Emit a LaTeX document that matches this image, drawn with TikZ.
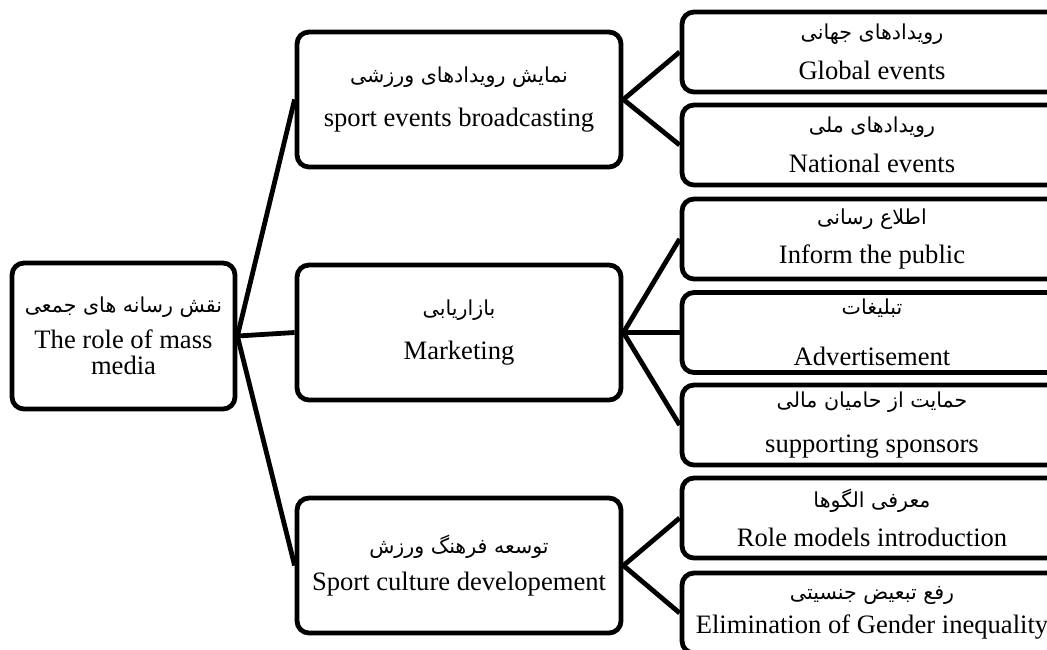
\documentclass[tikz,border=0pt]{standalone}
\usepackage{fontspec}
\setmainfont{Liberation Serif}
\newfontfamily\persianfont[Script=Arabic]{DejaVu Sans}
\TeXXeTstate=1
\newcommand{\fa}[1]{{\persianfont\fontsize{10.3}{11}\selectfont\beginR #1\endR}}

\begin{document}
\begin{tikzpicture}[x=0.5pt,y=-0.5pt]
\tikzstyle{box}=[draw,rounded corners=6pt,line width=2.4pt,align=center,inner sep=1pt,font=\fontsize{13.3}{11.5}\selectfont]
\tikzstyle{rootbox}=[box,minimum width=111.5pt,minimum height=73pt]
\tikzstyle{midbox}=[box,minimum width=162pt,minimum height=67.5pt]
\tikzstyle{leafbox}=[box,minimum width=190pt,minimum height=40pt]
\tikzstyle{link}=[line width=2.4pt]
\useasboundingbox (0,0) rectangle (1047,649);
% root
\node[rootbox] (media) at (123.5,336) {\fa{نقش رسانه های جمعی}\\[5pt] The role of mass\\[1.5pt]media};
% second level
\node[midbox] (broadcast) at (459,99.5) {\fa{نمایش رویدادهای ورزشی}\\[9pt] sport events broadcasting};
\node[midbox] (marketing) at (459,332.5) {\fa{بازاریابی}\\[9pt] Marketing};
\node[midbox] (culture) at (459,565.5) {\fa{توسعه فرهنگ ورزش}\\[6pt] Sport culture developement};
% leaves
\node[leafbox] (global) at (872,52) {\fa{رویدادهای جهانی}\\[7pt] Global events};
\node[leafbox] (national) at (872,145) {\fa{رویدادهای ملی}\\[7pt] National events};
\node[leafbox] (inform) at (872,239) {\fa{اطلاع رسانی}\\[7pt] Inform the public};
\node[leafbox] (advert) at (872,332.5) {\fa{تبلیغات}\\[14pt] Advertisement};
\node[leafbox] (sponsor) at (872,425) {\fa{حمایت از حامیان مالی}\\[11pt] supporting sponsors};
\node[leafbox] (models) at (872,518) {\fa{معرفی الگوها}\\[7pt] Role models introduction};
\node[leafbox] (gender) at (872,613) {\fa{رفع تبعیض جنسیتی}\\[4pt] Elimination of Gender inequality};
% connectors
\foreach \m in {broadcast,marketing,culture}
  \draw[link] (media.east) -- (\m.west);
\foreach \l in {global,national}
  \draw[link] (broadcast.east) -- (\l.west);
\foreach \l in {inform,advert,sponsor}
  \draw[link] (marketing.east) -- (\l.west);
\foreach \l in {models,gender}
  \draw[link] (culture.east) -- (\l.west);
\end{tikzpicture}
\end{document}
